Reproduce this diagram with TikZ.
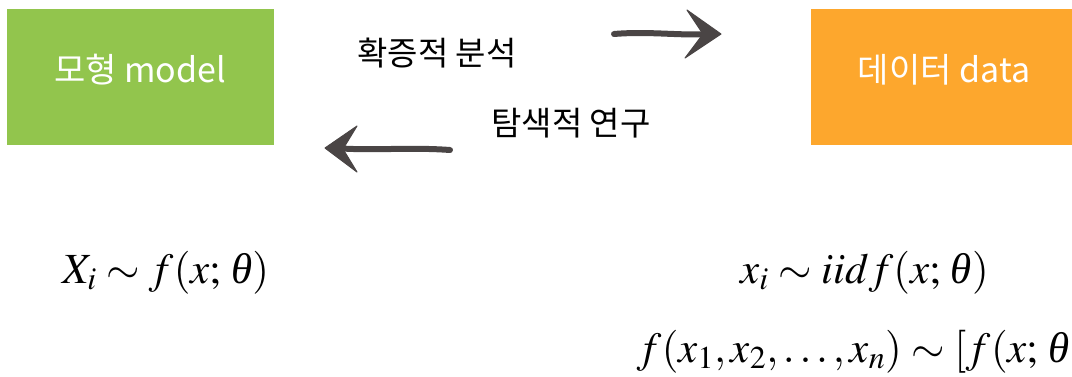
\documentclass[tikz,border=0pt]{standalone}
\usepackage{mathptmx}
\usepackage{fontspec}
\newfontfamily\kr{Noto Sans CJK KR}
\newfontfamily\tms{Liberation Serif}
\newcommand{\myth}{\mbox{\tms\itshape θ}}
\definecolor{mgreen}{HTML}{92C54D}
\definecolor{dorange}{HTML}{FDA72D}
\definecolor{pencil}{HTML}{4A4545}
\tikzset{
  boxnode/.style={minimum width=267pt, minimum height=136pt, inner sep=0pt},
  boxtext/.style={text=white, inner sep=0pt, font=\kr\fontsize{34}{40}\selectfont},
  lbl/.style={font=\kr\fontsize{33}{40}\selectfont, inner sep=0pt},
  mathlbl/.style={font=\fontsize{43}{48}\selectfont, inner sep=0pt, anchor=base west},
  sketch/.style={pencil, line width=6pt, line cap=round},
  sketchhead/.style={fill=pencil, draw=pencil, line width=1pt, line join=round}
}
\begin{document}
\begin{tikzpicture}[x=1pt,y=-1pt]
\useasboundingbox (0,0) rectangle (1072,376);
\begin{scope}
\clip (0,0) rectangle (1072,376);
\node[boxnode, fill=mgreen] (model) at (140.5,77) {};
\node[boxtext] (modeltext) at (140,70) {모형 model};
\node[boxnode, fill=dorange, anchor=west] (data) at (811,77) {};
\node[boxtext] (datatext) at (944,70) {데이터 data};
\node[lbl] (conf) at (437,53) {확증적 분석};
\node[lbl] (expl) at (571,123) {탐색적 연구};
% right arrow
\coordinate (r1) at (614,34);
\coordinate (r2) at (712,34);
\draw[sketch] (r1) .. controls (650,31) and (680,36) .. (r2);
\fill[sketchhead] (721,34) -- (687,10) -- (703,34) -- (685,58) -- cycle;
% left arrow
\coordinate (l1) at (450,150);
\coordinate (l2) at (335,148);
\draw[sketch] (l1) .. controls (410,147) and (370,151) .. (l2);
\fill[sketchhead] (325,148) -- (357,126) -- (343,149) -- (357,172) -- cycle;
% math
\node[mathlbl] (m1) at (62,283) {$X_i \sim f(x;\,\myth)$};
\node[mathlbl] (m2) at (740,283) {$x_i \sim iid f(x;\,\myth)$};
\node[mathlbl] (m3) at (637,362) {$f(x_1,x_2,\ldots,x_n) \sim [f(x;\,\myth)]$};
\end{scope}
\end{tikzpicture}
\end{document}
